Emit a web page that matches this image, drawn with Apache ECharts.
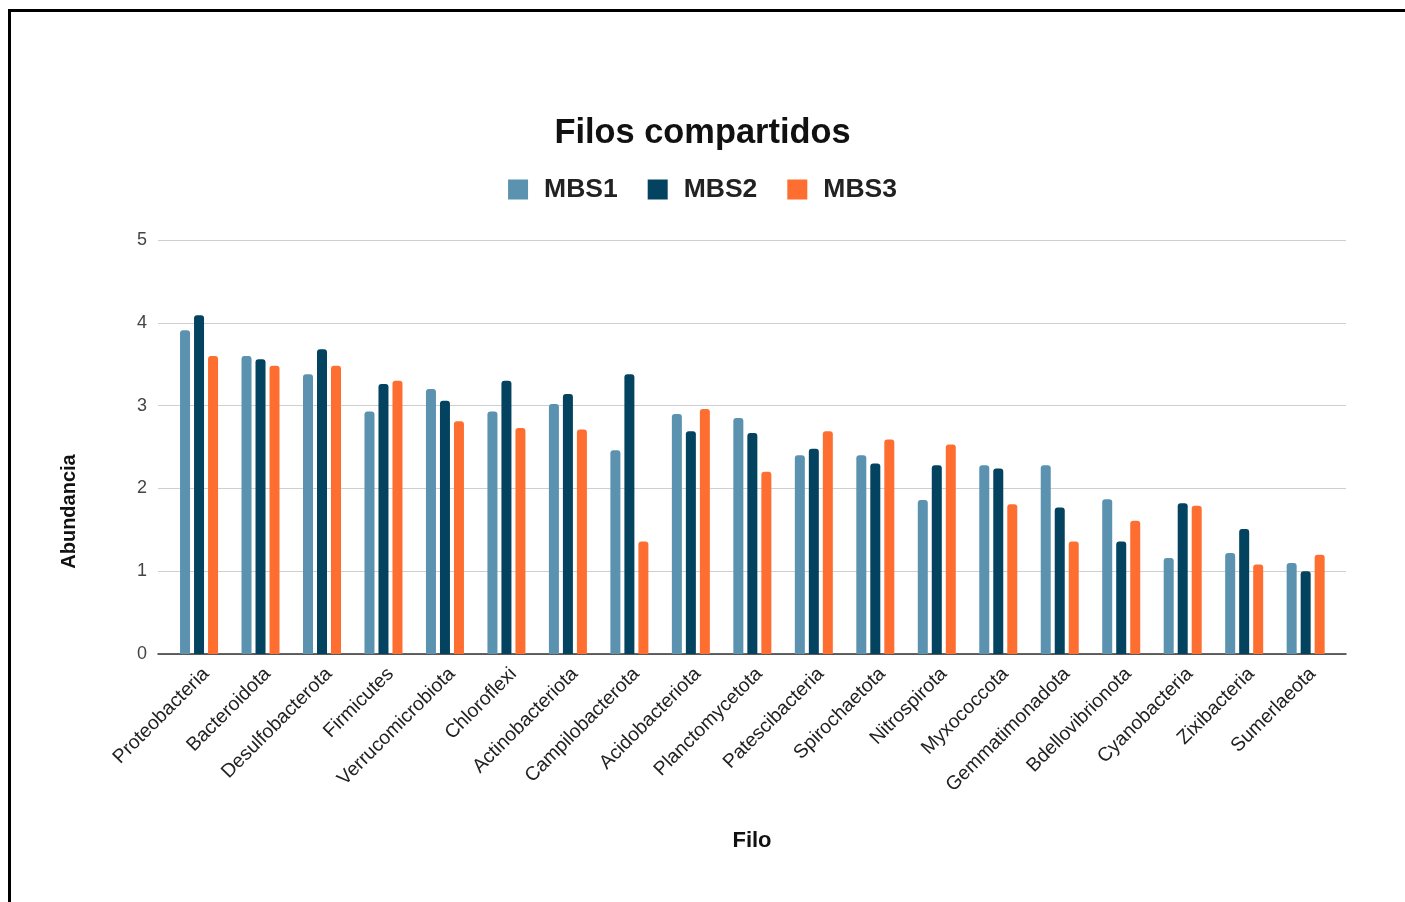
<!DOCTYPE html>
<html>
<head>
<meta charset="utf-8">
<script src="https://cdn.jsdelivr.net/npm/echarts@6/dist/echarts.min.js"></script>
<style>
  html, body { margin: 0; padding: 0; background: #fff; overflow: hidden; }
  #chart { position: absolute; left: 0; top: 0; width: 1405px; height: 902px; }
  #frame { position: absolute; left: 8px; top: 9px; width: 2000px; height: 2000px;
           border-left: 3px solid #000; border-top: 3px solid #000; pointer-events: none; }
</style>
</head>
<body>
<div id="chart"></div>
<div id="frame"></div>
<script>
// Phyla shared across the three samples
const categories = [
  'Proteobacteria', 'Bacteroidota', 'Desulfobacterota', 'Firmicutes',
  'Verrucomicrobiota', 'Chloroflexi', 'Actinobacteriota', 'Campilobacterota',
  'Acidobacteriota', 'Planctomycetota', 'Patescibacteria', 'Spirochaetota',
  'Nitrospirota', 'Myxococcota', 'Gemmatimonadota', 'Bdellovibrionota',
  'Cyanobacteria', 'Zixibacteria', 'Sumerlaeota'
];
const seriesNames = ['MBS1', 'MBS2', 'MBS3'];
const mbs1 = [3.91, 3.60, 3.38, 2.93, 3.20, 2.93, 3.02, 2.46, 2.90, 2.85, 2.40, 2.40, 1.86, 2.28, 2.28, 1.87, 1.16, 1.22, 1.10];
const mbs2 = [4.09, 3.56, 3.68, 3.26, 3.06, 3.30, 3.14, 3.38, 2.69, 2.67, 2.48, 2.30, 2.28, 2.24, 1.77, 1.36, 1.82, 1.51, 1.00];
const mbs3 = [3.60, 3.48, 3.48, 3.30, 2.81, 2.73, 2.71, 1.36, 2.96, 2.20, 2.69, 2.59, 2.53, 1.81, 1.36, 1.61, 1.79, 1.08, 1.20];
const yTicks = [0, 1, 2, 3, 4, 5];

const colors = ['#5a92b0', '#03435f', '#ff6e31'];
const FONT = '"Liberation Sans", Arial, sans-serif';

const chart = echarts.init(document.getElementById('chart'), null, { renderer: 'canvas' });

const values = [mbs1, mbs2, mbs3];
const yMin = yTicks[0], yMax = yTicks[yTicks.length - 1];

chart.setOption({
  backgroundColor: '#fff',
  animation: false,
  color: colors,
  title: {
    text: 'Filos compartidos',
    left: 'center',
    top: 117,
    padding: 0,
    textStyle: { fontFamily: FONT, fontSize: 34.4, fontWeight: 'bold', color: '#111' }
  },
  legend: {
    data: seriesNames,
    left: 'center',
    top: 176,
    padding: 0,
    icon: 'rect',
    itemWidth: 20,
    itemHeight: 20,
    itemGap: 30,
    textStyle: { fontFamily: FONT, fontSize: 26.5, fontWeight: 'bold', color: '#222', padding: [0, 0, 0, 11] }
  },
  graphic: [{
    type: 'text',
    x: 69,
    y: 511.5,
    rotation: Math.PI / 2,
    style: {
      text: 'Abundancia',
      fontFamily: FONT, fontSize: 20, fontWeight: 'bold', fill: '#111',
      textAlign: 'center', textVerticalAlign: 'middle'
    }
  }],
  grid: [
    // frame with gridlines, value labels and the baseline
    { left: 158, right: 59, top: 240, bottom: 248 },
    // bar area
    { left: 168.3, right: 68.6, top: 240, bottom: 248 }
  ],
  xAxis: [
    {
      gridIndex: 0, type: 'value', min: 0, max: 1,
      axisLine: { show: true, onZero: false, lineStyle: { color: '#333', width: 1.5 } },
      axisTick: { show: false }, axisLabel: { show: false }, splitLine: { show: false },
      name: 'Filo', nameLocation: 'middle', nameGap: 176,
      nameTextStyle: { fontFamily: FONT, fontSize: 22, fontWeight: 'bold', color: '#111' }
    },
    {
      gridIndex: 1, type: 'category', data: categories,
      axisLine: { show: false }, axisTick: { show: false },
      axisLabel: {
        interval: 0, rotate: 45, margin: 10,
        verticalAlign: 'top',
        fontFamily: FONT, fontSize: 19.5, color: '#222'
      }
    }
  ],
  yAxis: [
    {
      gridIndex: 0, type: 'value', min: yMin, max: yMax, interval: 1,
      axisLine: { show: false }, axisTick: { show: false },
      axisLabel: { margin: 11, fontFamily: FONT, fontSize: 18, color: '#444' },
      splitLine: { show: true, lineStyle: { color: '#cfcfcf', width: 1 } }
    },
    {
      gridIndex: 1, type: 'value', min: yMin, max: yMax, interval: 1, show: false,
      splitLine: { show: false }
    }
  ],
  series: seriesNames.map((name, i) => ({
    name,
    type: 'bar',
    xAxisIndex: 1,
    yAxisIndex: 1,
    data: values[i],
    barWidth: 10,
    barGap: '40%',
    itemStyle: { color: colors[i], borderRadius: [3, 3, 0, 0] }
  }))
});
</script>
</body>
</html>
